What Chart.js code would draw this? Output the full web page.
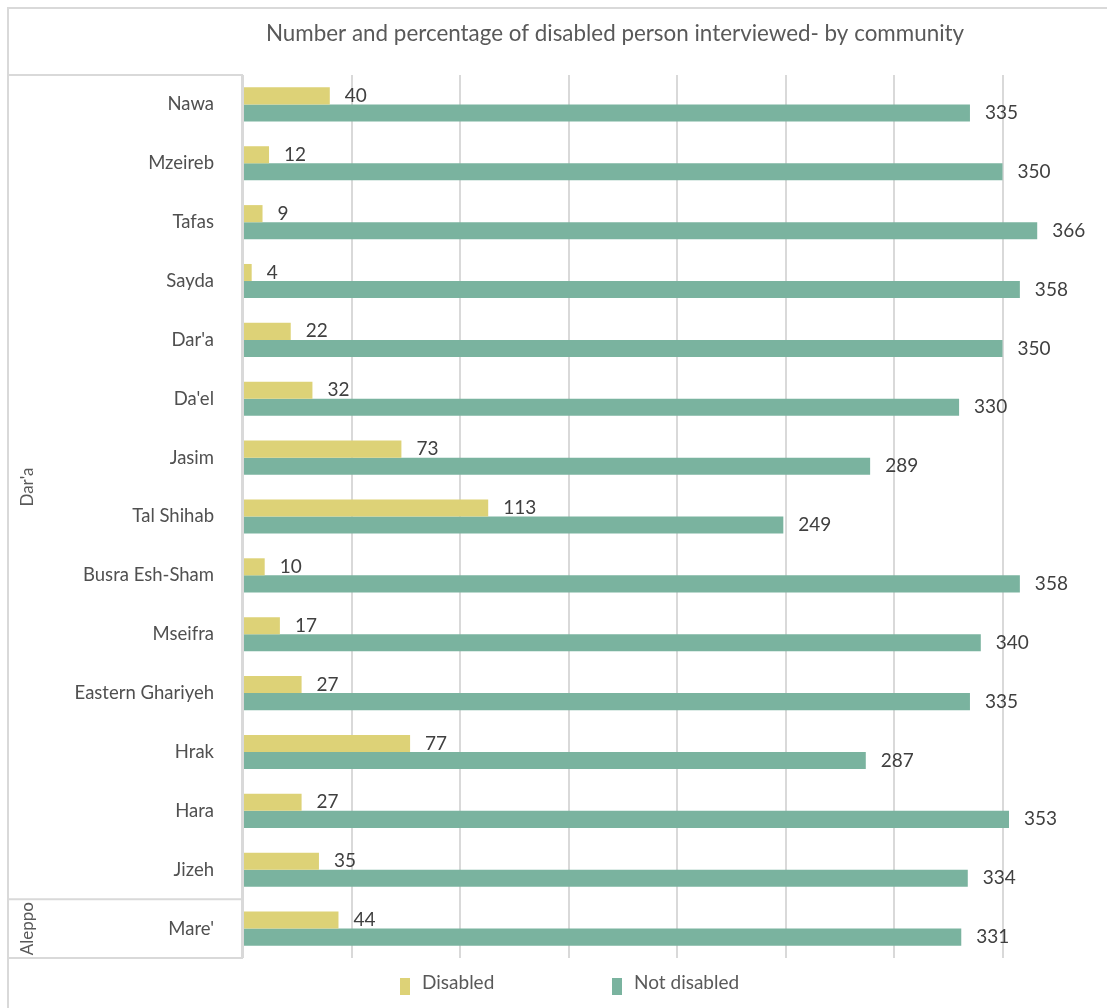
<!DOCTYPE html>
<html>
<head>
<meta charset="utf-8">
<script src="https://cdn.jsdelivr.net/npm/chart.js@4.4.0/dist/chart.umd.min.js"></script>
<style>
  html, body { margin: 0; padding: 0; overflow: hidden; background: #fff; }
  canvas { display: block; }
</style>
</head>
<body>
<canvas id="chart" width="1113" height="1008"></canvas>
<script>
// Dữ liệu biểu đồ
const communities = ['Nawa', 'Mzeireb', 'Tafas', 'Sayda', "Dar'a", "Da'el", 'Jasim', 'Tal Shihab',
  'Busra Esh-Sham', 'Mseifra', 'Eastern Ghariyeh', 'Hrak', 'Hara', 'Jizeh', "Mare'"];
const disabled = [40, 12, 9, 4, 22, 32, 73, 113, 10, 17, 27, 77, 27, 35, 44];
const notDisabled = [335, 350, 366, 358, 350, 330, 289, 249, 358, 340, 335, 287, 353, 334, 331];
// Nhóm theo tỉnh: [tên, chỉ số đầu, chỉ số cuối]
const governorates = [["Dar'a", 0, 13], ['Aleppo', 14, 14]];
const chartTitle = 'Number and percentage of disabled person interviewed- by community';

const FONT = 'Lato, "Open Sans", sans-serif';
const frameColor = '#d9d9d9';

// Plugin vẽ khung, tiêu đề, nhãn nhóm, nhãn giá trị và chú thích
const decorPlugin = {
  id: 'decor',
  beforeDraw(chart) {
    const ctx = chart.ctx;
    const area = chart.chartArea;
    ctx.save();
    ctx.strokeStyle = frameColor;
    ctx.lineWidth = 2;
    // khung ngoài
    ctx.beginPath();
    ctx.moveTo(8, 1008);
    ctx.lineTo(8, 8);
    ctx.lineTo(chart.width, 8);
    ctx.stroke();
    // ô nhóm bên trái
    const step = (area.bottom - area.top) / communities.length;
    ctx.beginPath();
    governorates.forEach(g => {
      const top = area.top + g[1] * step;
      const bottom = area.top + (g[2] + 1) * step;
      ctx.moveTo(8, top);
      ctx.lineTo(area.left, top);
      ctx.moveTo(8, bottom);
      ctx.lineTo(area.left, bottom);
    });
    ctx.moveTo(area.left - 1, area.top);
    ctx.lineTo(area.left - 1, area.bottom);
    ctx.stroke();
    // tiêu đề
    ctx.fillStyle = '#595959';
    ctx.font = '22.4px ' + FONT;
    ctx.textAlign = 'center';
    ctx.textBaseline = 'middle';
    ctx.fillText(chartTitle, 615, 34);
    // nhãn nhóm xoay dọc
    ctx.font = '17px ' + FONT;
    governorates.forEach(g => {
      const top = area.top + g[1] * step;
      const bottom = area.top + (g[2] + 1) * step;
      ctx.save();
      ctx.translate(28, (top + bottom) / 2);
      ctx.rotate(-Math.PI / 2);
      ctx.fillText(g[0], 0, 0);
      ctx.restore();
    });
    ctx.restore();
  },
  afterDatasetsDraw(chart) {
    const ctx = chart.ctx;
    ctx.save();
    ctx.fillStyle = '#404040';
    ctx.font = '19px ' + FONT;
    ctx.textAlign = 'left';
    ctx.textBaseline = 'middle';
    chart.data.datasets.forEach((ds, i) => {
      chart.getDatasetMeta(i).data.forEach((bar, j) => {
        ctx.fillText(String(ds.data[j]), bar.x + 15, bar.y);
      });
    });
    // chú thích
    const items = [[0, 400], [1, 612]];
    items.forEach(([i, x]) => {
      const ds = chart.data.datasets[i];
      ctx.fillStyle = ds.backgroundColor;
      ctx.fillRect(x, 978, 10, 17);
      ctx.fillStyle = '#595959';
      ctx.fillText(ds.label, x + 22, 983);
    });
    ctx.restore();
  }
};

const ctx = document.getElementById('chart').getContext('2d');
const chart = new Chart(ctx, {
  type: 'bar',
  data: {
    labels: communities,
    datasets: [
      { label: 'Disabled', data: disabled, backgroundColor: '#ddd277' },
      { label: 'Not disabled', data: notDisabled, backgroundColor: '#7ab39f' }
    ]
  },
  options: {
    indexAxis: 'y',
    responsive: false,
    animation: false,
    layout: { padding: { left: 8, top: 75, right: 2, bottom: 50 } },
    datasets: { bar: { barPercentage: 1, categoryPercentage: 0.58 } },
    scales: {
      x: {
        min: 0,
        max: 400,
        ticks: { display: false, stepSize: 50 },
        grid: { color: '#d9d9d9', lineWidth: 2, drawTicks: false },
        border: { display: false }
      },
      y: {
        afterFit(scale) { scale.width = 235; },
        ticks: { color: '#505050', font: { family: FONT, size: 18.5 }, padding: 21 },
        grid: { display: false },
        border: { display: false }
      }
    },
    plugins: {
      legend: { display: false },
      title: { display: false },
      tooltip: { enabled: false }
    }
  },
  plugins: [decorPlugin]
});
</script>
</body>
</html>
